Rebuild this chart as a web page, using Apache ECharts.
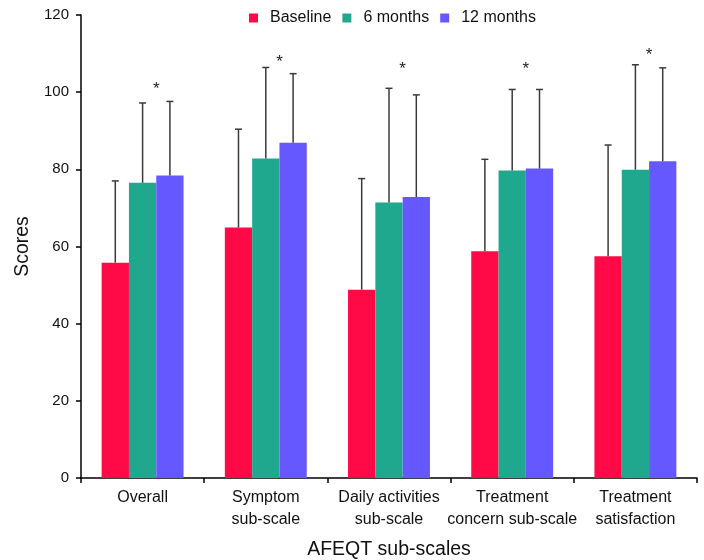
<!DOCTYPE html>
<html>
<head>
<meta charset="utf-8">
<script src="https://cdn.jsdelivr.net/npm/echarts@6/dist/echarts.min.js"></script>
<style>
  html, body { margin: 0; padding: 0; background: #fff; }
  #chart { width: 704px; height: 560px; }
</style>
</head>
<body>
<div id="chart"></div>
<script>
// AFEQT sub-scale scores (mean ± SD) at baseline, 6 and 12 months
const categories = [
  'Overall',
  'Symptom\nsub-scale',
  'Daily activities\nsub-scale',
  'Treatment\nconcern sub-scale',
  'Treatment\nsatisfaction'
];
const seriesNames = ['Baseline', '6 months', '12 months'];

const baselineMean = [55.8, 64.9, 48.8, 58.8, 57.5];
const month6Mean   = [76.5, 82.8, 71.4, 79.7, 79.9];
const month12Mean  = [78.4, 86.9, 72.8, 80.2, 82.1];

const baselineSD = [21.2, 25.5, 28.8, 23.8, 28.8];
const month6SD   = [20.7, 23.6, 29.6, 21.0, 27.2];
const month12SD  = [19.2, 17.9, 26.5, 20.5, 24.2];

// height of the significance marker above each group
const starLevel = [101.4, 108.5, 106.8, 106.8, 110.3];

const yTicks = { min: 0, max: 120, interval: 20 };

const colors = ['#ff0a46', '#20a88f', '#6658ff'];
const means = [baselineMean, month6Mean, month12Mean];
const sds = [baselineSD, month6SD, month12SD];

const FONT = '"Liberation Sans", Arial, sans-serif';
const CATEGORY_GAP = 0.335;

function barWidthOf(api) {
  return api.size([1, 0])[0] * (1 - CATEGORY_GAP) / 3;
}

function errorBarSeries(k) {
  return {
    type: 'custom',
    name: seriesNames[k] + ' SD',
    z: 5,
    data: means[k].map((m, i) => [i, m, m + sds[k][i]]),
    renderItem: function (params, api) {
      const bw = barWidthOf(api);
      const base = api.coord([api.value(0), api.value(1)]);
      const top = api.coord([api.value(0), api.value(2)]);
      const x = base[0] + (k - 1) * bw;
      const cap = 3.5;
      const style = { stroke: '#3a3a3a', lineWidth: 1.5 };
      return {
        type: 'group',
        children: [
          { type: 'line', shape: { x1: x, y1: base[1], x2: x, y2: top[1] }, style: style },
          { type: 'line', shape: { x1: x - cap, y1: top[1], x2: x + cap, y2: top[1] }, style: style }
        ]
      };
    }
  };
}

const barSeries = seriesNames.map((name, k) => ({
  type: 'bar',
  name: name,
  data: means[k],
  barGap: '0%',
  barCategoryGap: (CATEGORY_GAP * 100) + '%',
  itemStyle: { color: colors[k] },
  z: 2
}));

const starSeries = {
  type: 'custom',
  name: 'significance',
  z: 6,
  data: starLevel.map((v, i) => [i, v]),
  renderItem: function (params, api) {
    const bw = barWidthOf(api);
    const p = api.coord([api.value(0), api.value(1)]);
    return {
      type: 'text',
      style: {
        x: p[0] + bw / 2,
        y: p[1] + 3,
        text: '*',
        fill: '#222',
        font: '17px ' + FONT,
        align: 'center',
        verticalAlign: 'middle'
      }
    };
  }
};

const chart = echarts.init(document.getElementById('chart'), null, { renderer: 'canvas' });
chart.setOption({
  animation: false,
  backgroundColor: '#fff',
  textStyle: { fontFamily: FONT },
  legend: {
    data: seriesNames,
    top: 5,
    left: 244,
    icon: 'rect',
    itemWidth: 9,
    itemHeight: 9,
    itemGap: 11,
    textStyle: { fontSize: 16, color: '#111', fontFamily: FONT, padding: [0, 0, 0, 7] }
  },
  grid: { left: 81, right: 7, top: 15, bottom: 82, containLabel: false, outerBoundsMode: 'none' },
  xAxis: {
    type: 'category',
    data: categories,
    boundaryGap: true,
    name: 'AFEQT sub-scales',
    nameLocation: 'middle',
    nameGap: 62,
    nameTextStyle: { fontSize: 19.5, color: '#111', fontFamily: FONT },
    axisLine: { lineStyle: { color: '#000', width: 1.5 } },
    axisTick: { show: true, alignWithLabel: false, length: 5, lineStyle: { color: '#000', width: 1.5 } },
    axisLabel: { fontSize: 16, color: '#111', margin: 9, lineHeight: 22, interval: 0, fontFamily: FONT },
    splitLine: { show: false }
  },
  yAxis: {
    type: 'value',
    min: yTicks.min,
    max: yTicks.max,
    interval: yTicks.interval,
    name: 'Scores',
    nameLocation: 'middle',
    nameGap: 48,
    nameTextStyle: { fontSize: 19.5, color: '#111', fontFamily: FONT },
    axisLine: { show: true, lineStyle: { color: '#000', width: 1.5 } },
    axisTick: { show: true, length: 5, lineStyle: { color: '#000', width: 1.5 } },
    axisLabel: { fontSize: 15, color: '#111', margin: 12, fontFamily: FONT },
    splitLine: { show: false }
  },
  series: [
    ...barSeries,
    errorBarSeries(0),
    errorBarSeries(1),
    errorBarSeries(2),
    starSeries
  ]
});
</script>
</body>
</html>
